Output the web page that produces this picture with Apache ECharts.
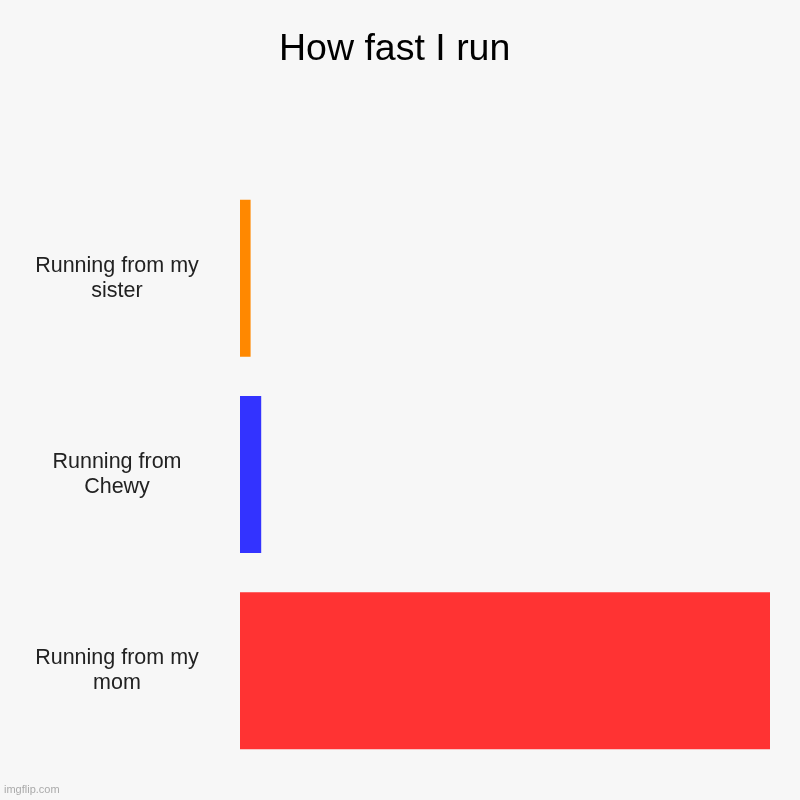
<!DOCTYPE html>
<html><head><meta charset="utf-8">
<script src="https://cdn.jsdelivr.net/npm/echarts@6/dist/echarts.min.js"></script>
<style>html,body{margin:0;padding:0;background:#f7f7f7}#c{width:800px;height:800px}</style>
</head><body><div id="c"></div>
<script>
const categories = ["Running from my\nsister", "Running from\nChewy", "Running from my\nmom"];
const values = [2, 4, 100];
const barColors = ["#ff8800", "#3333ff", "#ff3333"];
const chart = echarts.init(document.getElementById('c'));
chart.setOption({
  backgroundColor: '#f7f7f7',
  animation: false,
  title: {
    text: 'How fast I run', left: 274, top: 26,
    textStyle: {fontFamily: 'Liberation Sans, Arial', fontSize: 37.5, fontWeight: 'normal', color: '#000'}
  },
  graphic: [{type: 'text', left: 4, top: 784, style: {text: 'imgflip.com', fontFamily: 'Liberation Sans, Arial', fontSize: 11, fill: '#aaa'}}],
  grid: {left: 240, right: 30, top: 180, bottom: 31, containLabel: false},
  xAxis: {type: 'value', min: 0, max: 100, show: false},
  yAxis: {
    type: 'category', data: categories, inverse: true,
    axisLine: {show: false}, axisTick: {show: false}, splitLine: {show: false},
    axisLabel: {align: 'center', margin: 123, fontFamily: 'Liberation Sans, Arial', fontSize: 21.5, lineHeight: 25, padding: [4, 0, 0, 0], color: '#222'}
  },
  series: [{
    type: 'bar', barCategoryGap: '20%',
    data: values.map((v, i) => ({value: v, itemStyle: {color: barColors[i]}}))
  }]
});
</script></body></html>
